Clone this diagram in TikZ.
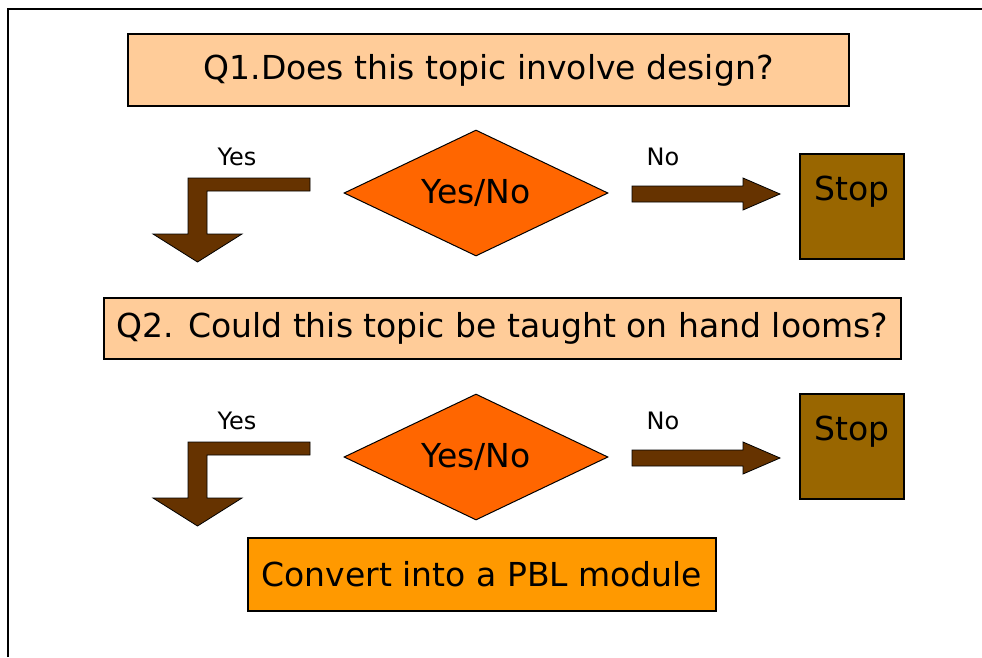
\documentclass[tikz,border=0pt]{standalone}
\usepackage{fontspec}
\setmainfont{DejaVu Sans}
\usetikzlibrary{shapes.geometric}
\definecolor{peach}{HTML}{FFCC99}
\definecolor{decide}{HTML}{FF6600}
\definecolor{stopfill}{HTML}{996600}
\definecolor{arrowfill}{HTML}{663300}
\definecolor{result}{HTML}{FF9900}
\tikzset{
  bigtext/.style={font=\fontsize{33}{40}\selectfont},
  smalltext/.style={font=\fontsize{24}{29}\selectfont, inner sep=0pt},
  question/.style={draw=black, line width=1.5pt, fill=peach, inner sep=0pt, bigtext},
  decision/.style={diamond, aspect=2.095, draw=black, line width=1pt, fill=decide, inner sep=0pt,
                   minimum width=264, minimum height=126, bigtext},
  stopbox/.style={rectangle, draw=black, line width=1.2pt, fill=stopfill, inner sep=0pt,
                  minimum width=104, text height=46, text depth=59, bigtext},
  resultbox/.style={draw=black, line width=1.5pt, fill=result, inner sep=0pt, bigtext},
  blockarrow/.style={draw=black, line width=0.8pt, fill=arrowfill, line join=miter},
  frameline/.style={draw=black, line width=2pt}
}
\begin{document}
\begin{tikzpicture}[x=1pt, y=-1pt]
\useasboundingbox (0,0) rectangle (982,657);
% outer frame (only the top and left edges fall inside the page)
\draw[frameline] (8,657) -- (8,9) -- (982,9);

% questions
\node[question, minimum width=721, minimum height=72] (q1) at (488.5,70)
  {Q1.Does this topic involve design?};
\node[question, minimum width=797, minimum height=61] (q2) at (502.5,328.5)
  {Q2. Could this topic be taught on hand looms?};

% decisions
\node[decision] (d1) at (476,193) {Yes/No};
\node[decision] (d2) at (476,457) {Yes/No};

% stop boxes
\node[stopbox] (s1) at (852,206.5) {Stop};
\node[stopbox] (s2) at (852,446.5) {Stop};

% result
\node[resultbox, minimum width=468, minimum height=73] (conv) at (482,574.5)
  {Convert into a PBL module};

% branch labels
\node[smalltext] (yes1) at (237,157) {Yes};
\node[smalltext] (no1)  at (663,157) {No};
\node[smalltext] (yes2) at (237,421) {Yes};
\node[smalltext] (no2)  at (663,421) {No};

% block arrows for both rows
\foreach \dy in {0,264} {
  \begin{scope}[shift={(0,\dy)}]
    % bent "Yes" arrow
    \path[blockarrow] (310,178) -- (310,191) -- (207,191) -- (207,234) -- (242,234)
      -- (197.5,262) -- (153,234) -- (188,234) -- (188,178) -- cycle;
    % straight "No" arrow
    \path[blockarrow] (632,186) -- (743,186) -- (743,178) -- (780,194)
      -- (743,210) -- (743,202) -- (632,202) -- cycle;
  \end{scope}
}
\end{tikzpicture}
\end{document}
